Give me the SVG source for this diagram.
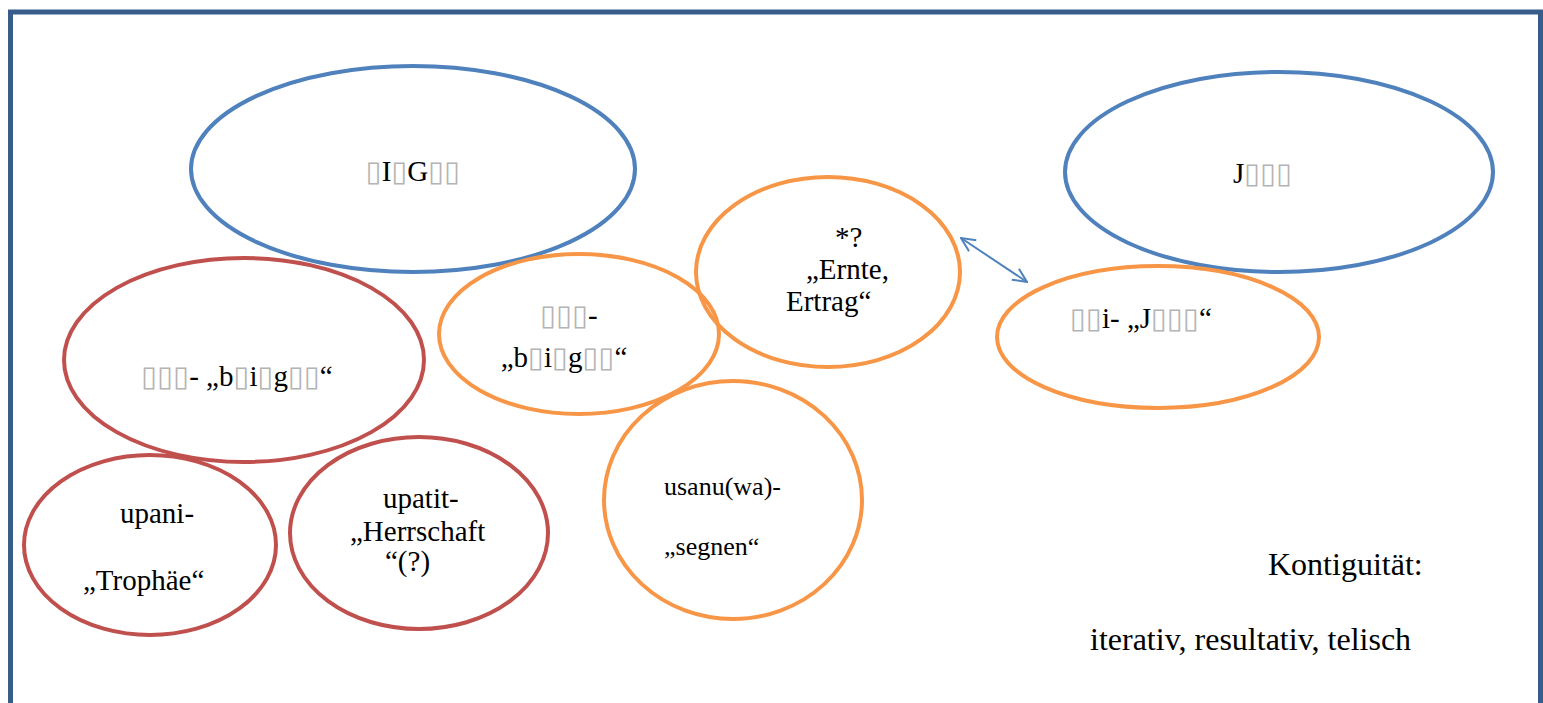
<svg xmlns="http://www.w3.org/2000/svg" width="1543" height="703" viewBox="0 0 1543 703">
  <style>
    .blue { fill: none; stroke: #4f81bd; stroke-width: 4; }
    .red { fill: none; stroke: #c0504d; stroke-width: 4; }
    .orange { fill: none; stroke: #f79646; stroke-width: 4; }
    text { font-family: "Liberation Serif", "Times New Roman", serif; font-size: 29px; fill: #000; }
    .sm { font-size: 26px; }
    .lg { font-size: 32px; }
    .tofu { font-family: "DejaVu Sans", sans-serif; fill: #b4b4b4; font-weight: normal; }
  </style>
  <defs>
    <marker id="openHead" viewBox="0 0 16 16" refX="15" refY="8" markerWidth="16" markerHeight="16" markerUnits="userSpaceOnUse" orient="auto-start-reverse">
      <path d="M1,1.5 L15,8 L1,14.5" fill="none" stroke="#4f81bd" stroke-width="2"/>
    </marker>
  </defs>

  <rect id="frame" x="10.5" y="12" width="1530" height="720" fill="#fff" stroke="#385d8a" stroke-width="5"/>

  <g id="connectors">
    <line x1="961" y1="238" x2="1027" y2="282" stroke="#4f81bd" stroke-width="2" marker-start="url(#openHead)" marker-end="url(#openHead)"/>
  </g>

  <g id="node-top-blue">
    <ellipse class="blue" cx="413" cy="169" rx="222" ry="103"/>
    <text x="413" y="181" text-anchor="middle" font-size="27"><tspan class="tofu">▯</tspan>I<tspan class="tofu">▯</tspan>G<tspan class="tofu">▯▯</tspan></text>
  </g>

  <g id="node-right-blue">
    <ellipse class="blue" cx="1279" cy="172" rx="214" ry="100"/>
    <text x="1233" y="183">J<tspan class="tofu">▯▯▯</tspan></text>
  </g>

  <g id="node-red-main">
    <ellipse class="red" cx="244" cy="360" rx="180" ry="102"/>
    <text x="237" y="386" text-anchor="middle"><tspan class="tofu">▯▯▯</tspan>- „b<tspan class="tofu">▯</tspan>i<tspan class="tofu">▯</tspan>g<tspan class="tofu">▯▯</tspan>“</text>
  </g>

  <g id="node-upani">
    <ellipse class="red" cx="150" cy="545" rx="126" ry="90"/>
    <text x="120" y="523">upani-</text>
    <text x="83" y="590">„Trophäe“</text>
  </g>

  <g id="node-upatit">
    <ellipse class="red" cx="419" cy="533" rx="129" ry="96"/>
    <text x="383" y="508">upatit-</text>
    <text x="350" y="541">„Herrschaft</text>
    <text x="385" y="571">“(?)</text>
  </g>

  <g id="node-orange-left">
    <ellipse class="orange" cx="579" cy="334" rx="140" ry="80"/>
    <text x="569" y="325" text-anchor="middle"><tspan class="tofu">▯▯▯</tspan>-</text>
    <text x="564" y="367" text-anchor="middle">„b<tspan class="tofu">▯</tspan>i<tspan class="tofu">▯</tspan>g<tspan class="tofu">▯▯</tspan>“</text>
  </g>

  <g id="node-ernte">
    <ellipse class="orange" cx="828" cy="272" rx="132" ry="95"/>
    <text x="835" y="247">*?</text>
    <text x="806" y="279">„Ernte,</text>
    <text x="786" y="311">Ertrag“</text>
  </g>

  <g id="node-orange-right">
    <ellipse class="orange" cx="1158" cy="337" rx="161" ry="71"/>
    <text x="1070" y="328" xml:space="preserve"><tspan class="tofu">▯▯</tspan>i- „J<tspan class="tofu">▯▯▯</tspan>“</text>
  </g>

  <g id="node-usanu">
    <ellipse class="orange" cx="733" cy="500" rx="129" ry="119"/>
    <text class="sm" x="664" y="495">usanu(wa)-</text>
    <text class="sm" x="664" y="555">„segnen“</text>
  </g>

  <g id="legend">
    <text class="lg" x="1268" y="575">Kontiguität:</text>
    <text class="lg" x="1090" y="650">iterativ, resultativ, telisch</text>
  </g>
</svg>
